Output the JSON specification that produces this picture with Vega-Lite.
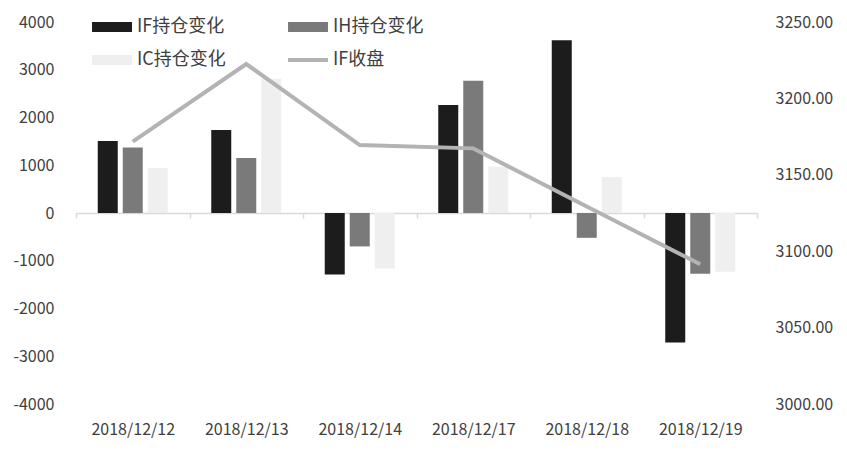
{
  "$schema": "https://vega.github.io/schema/vega-lite/v6.json",
  "width": 681,
  "height": 382,
  "autosize": {"type": "none"},
  "padding": {"left": 76, "top": 22, "right": 90, "bottom": 46},
  "background": "white",
  "config": {
    "view": {"stroke": null},
    "font": "Noto Sans CJK SC",
    "axis": {"grid": false, "labelColor": "#404040", "labelFontSize": 16, "titleColor": "#404040"}
  },
  "datasets": {
    "bars": [
      {"date": "2018/12/12", "series": "IF持仓变化", "value": 1510},
      {"date": "2018/12/12", "series": "IH持仓变化", "value": 1370},
      {"date": "2018/12/12", "series": "IC持仓变化", "value": 940},
      {"date": "2018/12/13", "series": "IF持仓变化", "value": 1740},
      {"date": "2018/12/13", "series": "IH持仓变化", "value": 1150},
      {"date": "2018/12/13", "series": "IC持仓变化", "value": 2810},
      {"date": "2018/12/14", "series": "IF持仓变化", "value": -1290},
      {"date": "2018/12/14", "series": "IH持仓变化", "value": -700},
      {"date": "2018/12/14", "series": "IC持仓变化", "value": -1160},
      {"date": "2018/12/17", "series": "IF持仓变化", "value": 2260},
      {"date": "2018/12/17", "series": "IH持仓变化", "value": 2770},
      {"date": "2018/12/17", "series": "IC持仓变化", "value": 970},
      {"date": "2018/12/18", "series": "IF持仓变化", "value": 3620},
      {"date": "2018/12/18", "series": "IH持仓变化", "value": -520},
      {"date": "2018/12/18", "series": "IC持仓变化", "value": 750},
      {"date": "2018/12/19", "series": "IF持仓变化", "value": -2710},
      {"date": "2018/12/19", "series": "IH持仓变化", "value": -1270},
      {"date": "2018/12/19", "series": "IC持仓变化", "value": -1230}
    ],
    "close": [
      {"date": "2018/12/12", "close": 3171.7},
      {"date": "2018/12/13", "close": 3222.5},
      {"date": "2018/12/14", "close": 3169.5},
      {"date": "2018/12/17", "close": 3167.3},
      {"date": "2018/12/18", "close": 3129.3},
      {"date": "2018/12/19", "close": 3091.4}
    ]
  },
  "layer": [
    {
      "data": {"name": "bars"},
      "mark": {"type": "bar"},
      "encoding": {
        "x": {
          "field": "date", "type": "nominal", "sort": null, "title": null,
          "scale": {"paddingInner": 0, "paddingOuter": 0},
          "axis": {
            "orient": "bottom", "offset": -191, "labelAngle": 0,
            "domainColor": "#d9d9d9", "domainWidth": 1.5,
            "tickColor": "#d9d9d9", "tickSize": 5, "tickWidth": 1.5, "tickBand": "extent",
            "labelPadding": 203, "labelFontSize": 16
          }
        },
        "xOffset": {
          "field": "series", "type": "nominal",
          "sort": ["IF持仓变化", "IH持仓变化", "IC持仓变化"],
          "scale": {"paddingInner": 0.2, "paddingOuter": 0.87}
        },
        "y": {
          "field": "value", "type": "quantitative", "title": null,
          "scale": {"domain": [-4000, 4000], "nice": false},
          "axis": {
            "orient": "left", "values": [-4000, -3000, -2000, -1000, 0, 1000, 2000, 3000, 4000],
            "domain": false, "ticks": false, "labelPadding": 22,
            "labelExpr": "datum.value < 0 ? '-' + abs(datum.value) : '' + datum.value"
          }
        },
        "color": {
          "field": "series", "type": "nominal",
          "scale": {
            "domain": ["IF持仓变化", "IH持仓变化", "IC持仓变化", "IF收盘"],
            "range": ["#1c1c1c", "#7a7a7a", "#efefef", "#b3b3b3"]
          },
          "legend": {
            "title": null, "orient": "none", "legendX": 27, "legendY": -4,
            "direction": "horizontal",
            "columns": 2, "columnPadding": 62, "rowPadding": 15,
            "labelFontSize": 18, "labelColor": "#404040", "labelOffset": 16,
            "symbolSize": 144,
            "encode": {
              "symbols": {
                "update": {
                  "shape": {"signal": "datum.value === 'IF收盘' ? 'M-3.33,-0.33H3.33V0.33H-3.33Z' : 'M-3.33,-0.85H3.33V0.85H-3.33Z'"},
                  "fill": {"scale": "color", "field": "value"},
                  "strokeWidth": {"value": 0},
                  "opacity": {"value": 1}
                }
              }
            }
          }
        }
      }
    },
    {
      "data": {"name": "close"},
      "mark": {"type": "line", "strokeWidth": 4},
      "encoding": {
        "x": {"field": "date", "type": "nominal", "sort": null, "title": null},
        "y": {
          "field": "close", "type": "quantitative", "title": null,
          "scale": {"domain": [3000, 3250], "nice": false, "zero": false},
          "axis": {
            "orient": "right", "values": [3000, 3050, 3100, 3150, 3200, 3250],
            "domain": false, "ticks": false, "labelPadding": 18, "format": ".2f"
          }
        },
        "color": {"datum": "IF收盘"}
      }
    }
  ],
  "resolve": {"scale": {"y": "independent"}}
}
